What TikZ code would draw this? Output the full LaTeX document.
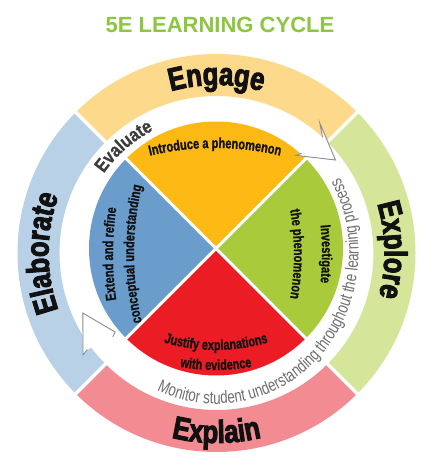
\documentclass[tikz,border=0pt]{standalone}
\usepackage{fontspec}
\usetikzlibrary{decorations.text}
\newfontfamily\ringfont[FakeStretch=0.8,BoldFeatures={FakeBold=3}]{Liberation Sans}
\newfontfamily\piefont[FakeStretch=0.76,BoldFeatures={FakeBold=1}]{Liberation Sans}
\newfontfamily\evalfont[FakeStretch=0.85,BoldFeatures={FakeBold=0.8}]{Liberation Sans}
\newfontfamily\monfont[FakeStretch=0.76]{Liberation Sans}
\newfontfamily\titlefont{Liberation Sans}
\definecolor{engc}{HTML}{FDD98C}
\definecolor{expc}{HTML}{D5E59A}
\definecolor{exlc}{HTML}{F28C92}
\definecolor{elac}{HTML}{B8D1E7}
\definecolor{orc}{HTML}{FDB913}
\definecolor{grc}{HTML}{A9CB3B}
\definecolor{rdc}{HTML}{EC1C24}
\definecolor{blc}{HTML}{6A9CCC}
\definecolor{titlegreen}{HTML}{8DC63F}
\definecolor{arrowgray}{HTML}{8C8C8C}
\definecolor{mongray}{HTML}{6E6E6E}
\definecolor{evalgray}{HTML}{3C3C3C}
\definecolor{txtblack}{HTML}{111111}
\tikzset{
  ringsep/.style={white,line width=3.5pt},
  piesep/.style={white,line width=3pt},
  arrowline/.style={arrowgray,line width=0.9pt,line join=miter},
}
\begin{document}
\begin{tikzpicture}[x=1pt,y=1pt]
\useasboundingbox (0,0) rectangle (433,474);
\fill[white] (0,0) rectangle (433,474);

% title
\node[font=\fontsize{22}{22}\titlefont\bfseries, text=titlegreen, anchor=base] (title) at (220,441) {5E LEARNING CYCLE};

% outer ring
\begin{scope}[shift={(216.5,221)}]
\fill[engc] (45:199pt) arc[start angle=45,end angle=135,radius=199pt] -- (135:157pt) arc[start angle=135,end angle=45,radius=157pt] -- cycle;
\fill[elac] (135:199pt) arc[start angle=135,end angle=225,radius=199pt] -- (225:157pt) arc[start angle=225,end angle=135,radius=157pt] -- cycle;
\fill[exlc] (225:199pt) arc[start angle=225,end angle=315,radius=199pt] -- (315:157pt) arc[start angle=315,end angle=225,radius=157pt] -- cycle;
\fill[expc] (-45:199pt) arc[start angle=-45,end angle=45,radius=199pt] -- (45:157pt) arc[start angle=45,end angle=-45,radius=157pt] -- cycle;
\foreach \a in {45,135,225,315} \draw[ringsep] (\a:150pt) -- (\a:205pt);
\end{scope}

% pie
\begin{scope}[shift={(216,225.5)}]
\fill[orc] (0,0) -- (45:127pt) arc[start angle=45,end angle=135,radius=127pt] -- cycle;
\fill[blc] (0,0) -- (135:127pt) arc[start angle=135,end angle=225,radius=127pt] -- cycle;
\fill[rdc] (0,0) -- (225:127pt) arc[start angle=225,end angle=315,radius=127pt] -- cycle;
\fill[grc] (0,0) -- (-45:127pt) arc[start angle=-45,end angle=45,radius=127pt] -- cycle;
\draw[piesep] (45:130pt) -- (225:130pt);
\draw[piesep] (135:130pt) -- (315:130pt);
\end{scope}

% arrowheads and ring texts
\begin{scope}[shift={(216.5,221)}]
\fill[white] (47.5:157pt) -- (51.5:166pt) -- (38:151pt) -- (50.8:126pt) -- (49.5:131pt) -- cycle;
\draw[arrowline] (47.5:157pt) -- (51.5:166pt) -- (38:151pt) -- (50.8:126pt) -- (49.5:131pt);
\fill[white] (216.8:161.5pt) -- (217.4:168pt) -- (204.2:146.5pt) -- (217.9:128.6pt) -- (219:133.3pt) -- cycle;
\draw[arrowline] (216.8:161.5pt) -- (217.4:168pt) -- (204.2:146.5pt) -- (217.9:128.6pt) -- (219:133.3pt);

\path[decorate,decoration={text along path,text align=center,text color=txtblack,
  text={|\fontsize{32}{32}\ringfont\bfseries|Engage}}]
  (130:168pt) arc[start angle=130,end angle=50,radius=168pt];
\path[decorate,decoration={text along path,text align=center,text color=txtblack,
  text={|\fontsize{32}{32}\ringfont\bfseries|Explore}}]
  (41:168pt) arc[start angle=41,end angle=-39,radius=168pt];
\path[decorate,decoration={text along path,text align=center,text color=txtblack,
  text={|\fontsize{32}{32}\ringfont\bfseries|Elaborate}}]
  (225:168pt) arc[start angle=225,end angle=135,radius=168pt];
\path[decorate,decoration={text along path,text align=center,text color=txtblack,
  text={|\fontsize{32}{32}\ringfont\bfseries|Explain}}]
  (230:190pt) arc[start angle=230,end angle=310,radius=190pt];
\path[decorate,decoration={text along path,text align=center,text color=evalgray,
  text={|\fontsize{19}{19}\evalfont\bfseries|Evaluate}}]
  (158:138pt) arc[start angle=158,end angle=104,radius=138pt];
\path[decorate,decoration={text along path,text align=center,text color=mongray,
  text={|\fontsize{17.5}{17.5}\monfont|Monitor student understanding throughout the learning process}}]
  (237.5:142pt and 151pt) arc[start angle=237.5,end angle=397.5,x radius=142pt,y radius=151pt];
\end{scope}

% pie texts
\begin{scope}[shift={(215,46)}]
\path[decorate,decoration={text along path,text align=center,text color=txtblack,
  text={|\fontsize{14.5}{14.5}\piefont\bfseries|Introduce a phenomenon}}]
  (110:280pt) arc[start angle=110,end angle=70,radius=280pt];
\end{scope}
\begin{scope}[shift={(44,220)}]
\path[decorate,decoration={text along path,text align=center,text color=txtblack,
  text={|\fontsize{14.5}{14.5}\piefont\bfseries|Investigate}}]
  (20:278pt) arc[start angle=20,end angle=-20,radius=278pt];
\path[decorate,decoration={text along path,text align=center,text color=txtblack,
  text={|\fontsize{14.5}{14.5}\piefont\bfseries|the phenomenon}}]
  (20:250pt) arc[start angle=20,end angle=-20,radius=250pt];
\end{scope}
\begin{scope}[shift={(216,306)}]
\path[decorate,decoration={text along path,text align=center,text color=txtblack,
  text={|\fontsize{14.5}{14.5}\piefont\bfseries|Justify explanations}}]
  (245:182pt) arc[start angle=245,end angle=295,radius=182pt];
\path[decorate,decoration={text along path,text align=center,text color=txtblack,
  text={|\fontsize{14.5}{14.5}\piefont\bfseries|with evidence}}]
  (250:202pt) arc[start angle=250,end angle=290,radius=202pt];
\end{scope}
\begin{scope}[shift={(434,220)}]
\path[decorate,decoration={text along path,text align=center,text color=txtblack,
  text={|\fontsize{14.5}{14.5}\piefont\bfseries|Extend and refine}}]
  (200:321pt) arc[start angle=200,end angle=160,radius=321pt];
\path[decorate,decoration={text along path,text align=center,text color=txtblack,
  text={|\fontsize{14.5}{14.5}\piefont\bfseries|conceptual understanding}}]
  (200:300pt) arc[start angle=200,end angle=160,radius=300pt];
\end{scope}
\end{tikzpicture}
\end{document}
